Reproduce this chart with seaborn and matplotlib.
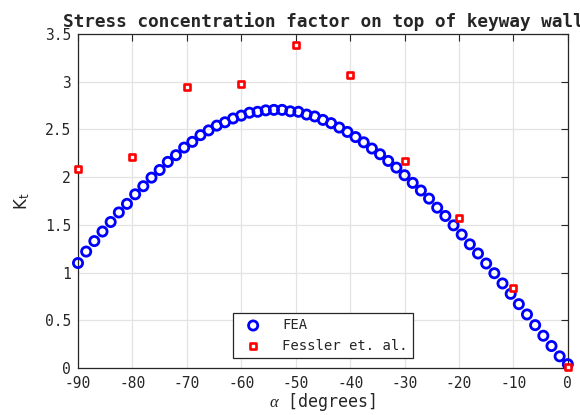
import numpy as np
import matplotlib
matplotlib.use('Agg')
import matplotlib.pyplot as plt
import matplotlib.ticker as mticker
import seaborn as sns

# FEA results, every 1.5 degrees from -90 to 0
fea_alpha = np.arange(-90, 0.1, 1.5)
fea_kt = [1.10, 1.22, 1.33, 1.43, 1.53, 1.63, 1.72, 1.82, 1.905, 1.995,
          2.075, 2.16, 2.23, 2.31, 2.37, 2.44, 2.49, 2.54, 2.575, 2.615,
          2.645, 2.675, 2.685, 2.70, 2.705, 2.705, 2.69, 2.685, 2.656, 2.636,
          2.60, 2.566, 2.52, 2.474, 2.42, 2.365, 2.30, 2.24, 2.17, 2.10,
          2.02, 1.94, 1.86, 1.775, 1.68, 1.593, 1.495, 1.398, 1.296, 1.20,
          1.095, 0.993, 0.886, 0.777, 0.669, 0.561, 0.449, 0.338, 0.23, 0.122,
          0.04]

# Fessler et. al. reference values
fessler_alpha = [-90, -80, -70, -60, -50, -40, -30, -20, -10, 0]
fessler_kt = [2.09, 2.215, 2.94, 2.975, 3.39, 3.07, 2.165, 1.575, 0.84, 0.01]

sns.set_style('whitegrid')
plt.rcParams['font.family'] = ['DejaVu Sans Mono']
plt.rcParams['mathtext.fontset'] = 'custom'
plt.rcParams['mathtext.rm'] = 'DejaVu Sans'
plt.rcParams['mathtext.it'] = 'Liberation Serif:italic'
plt.rcParams['mathtext.sf'] = 'DejaVu Sans'

fig = plt.figure(figsize=(5.8, 4.15), dpi=100)
ax = fig.add_axes([0.1345, 0.1133, 0.8445, 0.8047])

sns.scatterplot(x=fea_alpha, y=fea_kt, ax=ax, marker='o', s=44,
                facecolor='none', edgecolor='#0000ff', linewidth=2.0,
                label='FEA', clip_on=False, zorder=3)
sns.scatterplot(x=fessler_alpha, y=fessler_kt, ax=ax, marker='s', s=15,
                facecolor='white', edgecolor='#ff0000', linewidth=1.9,
                label='Fessler et. al.', clip_on=False, zorder=4)

ax.set_xlim(-90, 0)
ax.set_ylim(0, 3.5)
ax.set_xticks(np.arange(-90, 1, 10))
ax.set_yticks(np.arange(0, 3.51, 0.5))
ax.yaxis.set_major_formatter(mticker.FuncFormatter(lambda v, p: '%g' % v))
ax.xaxis.set_major_formatter(mticker.FuncFormatter(lambda v, p: '%g' % v if v != 0 else '0'))

ax.grid(True, color='#e3e3e3', linewidth=0.9)
for sp in ax.spines.values():
    sp.set_visible(True)
    sp.set_color('#262626')
    sp.set_linewidth(0.9)
ax.tick_params(direction='in', length=5, width=0.8, color='#262626',
               top=True, right=True, labelsize=10.5, labelcolor='#262626')
ax.tick_params(axis='x', pad=6)
ax.tick_params(axis='y', pad=5)

ax.set_title('Stress concentration factor on top of keyway wall',
             fontsize=12.8, fontweight='bold', pad=5)
ax.set_xlabel(r'$\alpha$ [degrees]', fontsize=12, color='#262626', labelpad=0)
ax.set_ylabel(r'K$_{\mathrm{t}}$', fontsize=12, family='DejaVu Sans',
              color='#262626', labelpad=9)

leg = ax.legend(loc='lower center', bbox_to_anchor=(0.5, 0.03), fontsize=10,
                frameon=True, fancybox=False, edgecolor='#262626',
                framealpha=1, borderpad=0.35, handletextpad=1.0,
                borderaxespad=0, handlelength=2.2)
leg.get_frame().set_linewidth(0.9)

fig.savefig('out.png', dpi=100)
